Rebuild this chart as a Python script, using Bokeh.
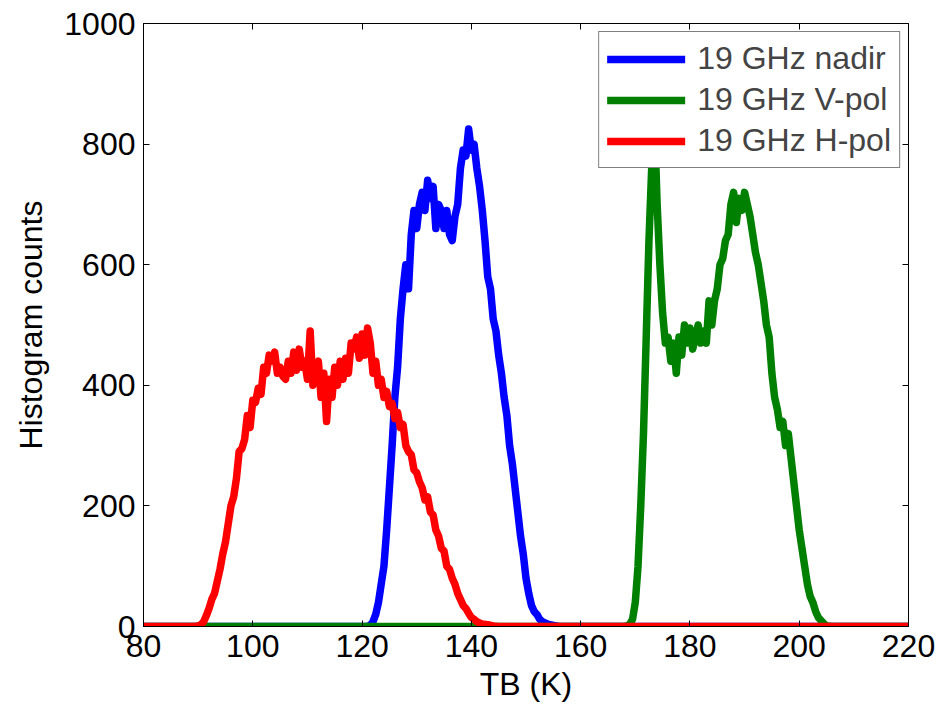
from bokeh.plotting import figure
from bokeh.models import LinearAxis, Range1d, FixedTicker, Legend, LegendItem
from bokeh.embed import file_html
from bokeh.resources import INLINE

# ---- data (histogram counts) ----
x_nadir = [80, 121, 121.5, 122, 122.5, 123, 123.5, 124, 124.5, 125, 125.5, 126, 126.5, 127, 127.5,
           128, 128.5, 129, 129.5, 130, 130.5, 131, 131.5, 132, 132.5, 133, 133.5, 134, 134.5,
           135, 135.5, 136, 136.5, 137, 137.5, 138, 138.5, 139, 139.5, 140, 140.5, 141, 141.5,
           142, 142.5, 143, 143.5, 144, 144.5, 145, 145.5, 146, 146.5, 147, 147.5, 148, 148.5,
           149, 149.5, 150, 150.5, 151, 151.5, 152, 152.5, 153, 154, 155, 156, 220]
y_nadir = [0, 0, 2, 8, 20, 40, 70, 100, 160, 230, 300, 380, 430, 510, 560,
           600, 560, 650, 690, 660, 700, 720, 690, 740, 710, 730, 660, 700, 690,
           660, 690, 650, 640, 680, 700, 760, 790, 780, 825, 790, 800, 760, 730,
           690, 640, 580, 560, 510, 490, 450, 420, 380, 350, 300, 270, 230, 190,
           150, 120, 80, 55, 35, 25, 20, 12, 8, 4, 2, 0, 0]

x_vpol = [80, 168, 168.5, 169, 169.5, 170, 170.5, 171, 171.5, 172, 172.5, 173, 173.5, 174, 174.5,
          175, 175.5, 176, 176.5, 177, 177.5, 178, 178.5, 179, 179.5, 180, 180.5, 181, 181.5,
          182, 182.5, 183, 183.5, 184, 184.5, 185, 185.5, 186, 186.5, 187, 187.5, 188, 188.5,
          189, 189.5, 190, 190.5, 191, 191.5, 192, 192.5, 193, 193.5, 194, 194.5, 195, 195.5,
          196, 196.5, 197, 197.5, 198, 198.5, 199, 199.5, 200, 200.5, 201, 201.5, 202, 202.5,
          203, 203.5, 204, 204.5, 205, 206, 220]
y_vpol = [0, 0, 1, 4, 12, 40, 100, 200, 320, 480, 640, 760, 840, 700, 600,
          520, 470, 480, 440, 470, 420, 480, 450, 500, 470, 495, 460, 480, 500,
          470, 490, 470, 540, 500, 540, 560, 600, 610, 640, 650, 700, 720, 670,
          710, 690, 720, 700, 680, 650, 620, 600, 570, 540, 500, 480, 420, 380,
          360, 330, 340, 300, 320, 280, 240, 200, 160, 130, 100, 70, 50, 40,
          25, 15, 10, 5, 1, 0, 0]

x_hpol = [80, 89.5, 90, 90.5, 91, 91.5, 92, 92.5, 93, 93.5, 94, 94.5, 95, 95.5, 96, 96.5, 97, 97.5,
          98, 98.5, 99, 99.5, 100, 100.5, 101, 101.5, 102, 102.5, 103, 103.5, 104, 104.5,
          105, 105.5, 106, 106.5, 107, 107.5, 108, 108.5, 109, 109.5, 110, 110.5, 111, 111.5,
          112, 112.5, 113, 113.5, 114, 114.5, 115, 115.5, 116, 116.5, 117, 117.5, 118, 118.5,
          119, 119.5, 120, 120.5, 121, 121.5, 122, 122.5, 123, 123.5, 124, 124.5, 125, 125.5,
          126, 126.5, 127, 127.5, 128, 128.5, 129, 129.5, 130, 130.5, 131, 131.5, 132, 132.5,
          133, 133.5, 134, 134.5, 135, 135.5, 136, 136.5, 137, 137.5, 138, 138.5, 139, 139.5,
          140, 140.5, 141, 141.5, 142, 143, 144, 145, 220]
y_hpol = [0, 0, 1, 3, 8, 18, 30, 45, 55, 75, 95, 120, 140, 170, 200, 215, 245, 290,
          295, 310, 350, 330, 375, 372, 395, 385, 430, 420, 450, 440, 455, 420,
          430, 415, 410, 440, 420, 455, 425, 460, 430, 440, 410, 490, 400, 430,
          440, 380, 420, 340, 410, 380, 430, 400, 440, 410, 445, 420, 470, 460,
          480, 445, 485, 450, 495, 470, 420, 440, 400, 410, 380, 390, 365, 370,
          345, 355, 330, 335, 300, 290, 285, 260, 255, 240, 230, 210, 215, 190,
          185, 160, 150, 130, 125, 100, 95, 80, 70, 55, 45, 35, 30, 22,
          15, 12, 8, 6, 4, 3, 1, 0, 0]

labels = ["19 GHz nadir", "19 GHz V-pol", "19 GHz H-pol"]
colors = ["#0000FF", "#008000", "#FF0000"]
x_ticks = [80, 100, 120, 140, 160, 180, 200, 220]
y_ticks = [0, 200, 400, 600, 800, 1000]

FONT = "Liberation Sans"
FS = "32px"

p = figure(width=937, height=709, output_backend="svg", toolbar_location=None,
           x_range=Range1d(80, 220), y_range=Range1d(0, 1000),
           min_border_left=143, min_border_right=29, min_border_top=23, min_border_bottom=83)
p.grid.visible = False
p.outline_line_color = "black"
p.outline_line_width = 1
p.background_fill_color = "white"
p.border_fill_color = "white"

renderers = []
for xs, ys, c in zip([x_nadir, x_vpol, x_hpol], [y_nadir, y_vpol, y_hpol], colors):
    r = p.line(xs, ys, line_color=c, line_width=7.5, line_join="round", line_cap="round")
    renderers.append(r)

def style_axis(ax, show_labels=True):
    ax.major_tick_in = 6
    ax.major_tick_out = 0
    ax.minor_tick_in = 0
    ax.minor_tick_out = 0
    ax.axis_line_color = "black"
    ax.major_tick_line_color = "black"
    ax.major_label_text_font = FONT
    if show_labels:
        ax.major_label_text_color = "black"
        ax.major_label_text_font_size = FS
        ax.major_label_standoff = 8
    else:
        ax.major_label_text_color = None
        ax.major_label_text_font_size = "1px"
        ax.major_label_standoff = 0

p.xaxis.ticker = FixedTicker(ticks=x_ticks)
p.yaxis.ticker = FixedTicker(ticks=y_ticks)
style_axis(p.xaxis[0])
style_axis(p.yaxis[0])
p.xaxis.axis_label = "TB (K)"
p.yaxis.axis_label = "Histogram counts"
for ax in (p.xaxis[0], p.yaxis[0]):
    ax.axis_label_text_font = FONT
    ax.axis_label_text_font_size = FS
    ax.axis_label_text_font_style = "normal"
    ax.axis_label_text_color = "black"
p.xaxis.axis_label_standoff = 6
p.yaxis.axis_label_standoff = 12

top = LinearAxis(ticker=FixedTicker(ticks=x_ticks))
right = LinearAxis(ticker=FixedTicker(ticks=y_ticks))
style_axis(top, False)
style_axis(right, False)
p.add_layout(top, "above")
p.add_layout(right, "right")

legend = Legend(items=[LegendItem(label=l, renderers=[r]) for l, r in zip(labels, renderers)],
                location="top_right")
legend.label_text_font = FONT
legend.label_text_font_size = FS
legend.glyph_width = 78
legend.glyph_height = 36
legend.label_height = 36
legend.label_standoff = 12
legend.spacing = 4
legend.padding = 8
legend.margin = 8
legend.border_line_color = "black"
legend.border_line_width = 1
legend.background_fill_alpha = 1.0
p.add_layout(legend, "center")

open("out.html", "w").write(file_html(p, INLINE))
